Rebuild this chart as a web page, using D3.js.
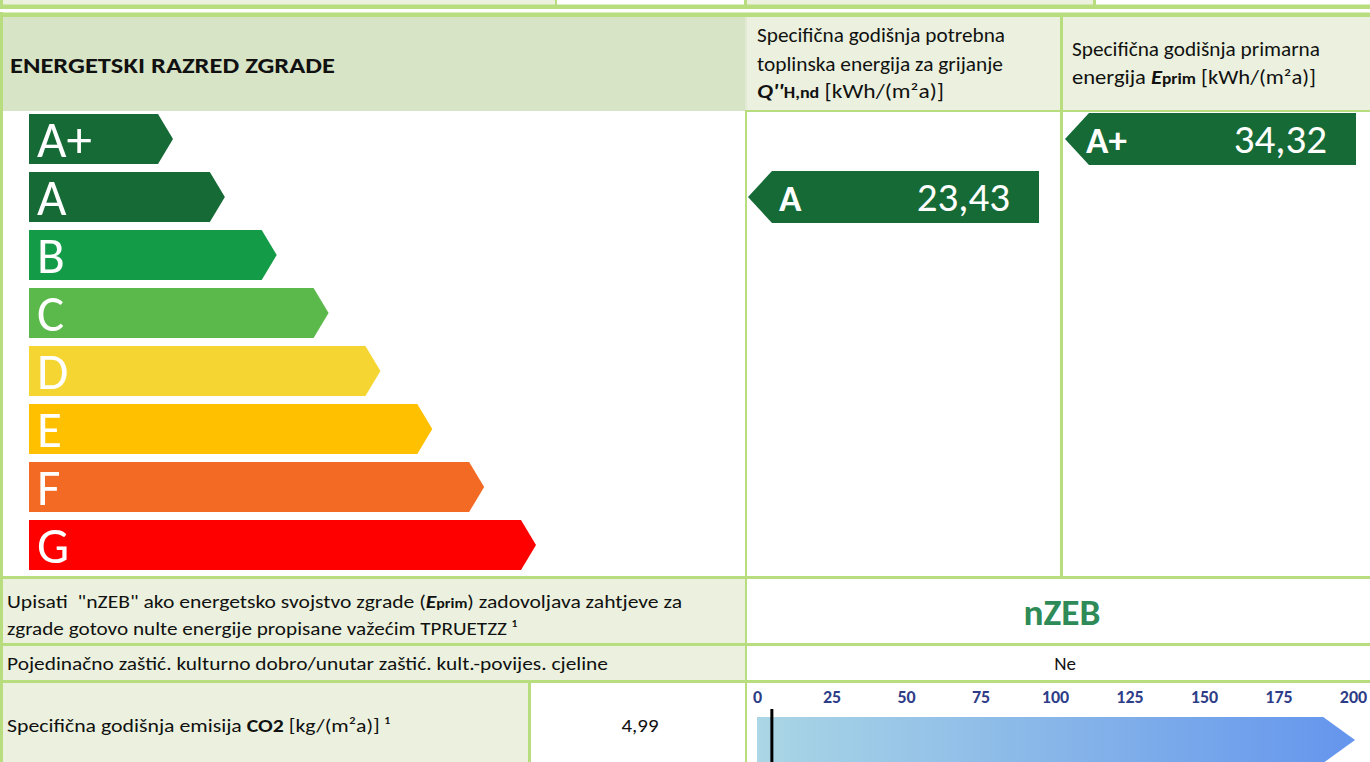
<!DOCTYPE html>
<html><head><meta charset="utf-8">
<script src="https://cdn.jsdelivr.net/npm/d3@7"></script>
<style>body{margin:0;background:#fff;overflow:hidden}svg{display:block}text{font-family:Carlito,Lato,"Open Sans",sans-serif}</style>
</head><body>
<script>
// ---- data ----
const classes = ["A+","A","B","C","D","E","F","G"];
const classColors = ["#156a36","#156a36","#149b48","#5bb84a","#f5d531","#ffc000","#f26a24","#ff0000"];
const qhndClass = "A";
const qhndValue = "23,43";
const eprimClass = "A+";
const eprimValue = "34,32";
const nzebValue = "nZEB";
const kulturnoValue = "Ne";
const co2Value = 4.99;
const co2Label = "4,99";
const co2Ticks = [0,25,50,75,100,125,150,175,200];

const W = 1370, H = 762;
const GREEN = "#b8dd7e", PALE = "#ebf1de", HEAD = "#d8e4c6";
const svg = d3.select("body").append("svg").attr("width", W).attr("height", H);
const defs = svg.append("defs");
const grad = defs.append("linearGradient").attr("id","co2grad").attr("x1","0").attr("x2","1").attr("y1","0").attr("y2","0");
grad.append("stop").attr("offset","0").attr("stop-color","#aad6e5");
grad.append("stop").attr("offset","1").attr("stop-color","#6495ed");

function rect(x,y,w,h,fill){ return svg.append("rect").attr("x",x).attr("y",y).attr("width",w).attr("height",h).attr("fill",fill); }

// ---- top strip (previous table) ----
rect(0,0,555,5,PALE); rect(555,0,2,5,GREEN); rect(557,0,188,5,"#fff");
rect(744,0,3,5,GREEN); rect(747,0,346,5,PALE); rect(1093,0,3,5,GREEN); rect(1096,0,274,5,"#fff");
rect(0,0,3,5,GREEN);
rect(0,4.5,W,4.5,GREEN);
rect(0,12.5,W,4.5,GREEN);

// ---- header ----
rect(3,17,742,94,HEAD);
rect(747,17,313,93,PALE);
rect(1063,17,307,93,PALE);
rect(745,17,2,94,"#e2ead6");
rect(1060,17,3,93,GREEN);
rect(745,110,W-745,2,GREEN);
rect(0,12,3,H-12,GREEN);

function txt(x,y,s,size,opts={}){
  const t = svg.append("text").attr("x",x).attr("y",y).attr("font-size",size).attr("fill",opts.fill||"#111")
    .attr("font-weight",opts.weight||400).attr("text-anchor",opts.anchor||"start").text(s);
  if(opts.len){ t.attr("textLength",opts.len).attr("lengthAdjust","spacingAndGlyphs"); }
  return t;
}
function mixed(x,y,parts,size,len){
  const t = svg.append("text").attr("x",x).attr("y",y).attr("font-size",size).attr("fill","#111");
  parts.forEach(p=>{
    const ts = t.append("tspan").text(p.t);
    if(p.b) ts.attr("font-weight",700);
    if(p.i) ts.attr("font-style","italic");
    if(p.s) ts.attr("font-size",p.s);
  });
  if(len) t.attr("textLength",len).attr("lengthAdjust","spacingAndGlyphs");
  return t;
}

txt(10,73,"ENERGETSKI RAZRED ZGRADE",23,{weight:700,len:325});
txt(757,42,"Specifična godišnja potrebna",19.5,{len:248});
txt(757,71,"toplinska energija za grijanje",19.5,{len:246});
mixed(757,98,[{t:"Q''",b:1,i:1},{t:"H,nd",b:1,s:15},{t:" [kWh/(m²a)]"}],19.5,187);
txt(1072,56,"Specifična godišnja primarna",19.5,{len:248});
mixed(1072,84,[{t:"energija "},{t:"E",b:1,i:1},{t:"prim",b:1,s:15},{t:" [kWh/(m²a)]"}],19.5,244);

// ---- body: class scale ----
const yBand = d3.scaleBand().domain(classes).range([114,570]).paddingInner(8/58).paddingOuter(0);
const xTip = d3.scaleLinear().domain([0,classes.length-1]).range([173,536]);
const bh = yBand.bandwidth();
const gCls = svg.append("g");
classes.forEach((c,i)=>{
  const y0 = yBand(c), tip = xTip(i), x0 = 29, depth = 15;
  gCls.append("path")
    .attr("d",`M${x0},${y0}H${tip-depth}L${tip},${y0+bh/2}L${tip-depth},${y0+bh}H${x0}Z`)
    .attr("fill",classColors[i]);
  gCls.append("text").attr("x",37).attr("y",y0+bh/2+18).attr("font-size",51).attr("font-weight",300)
    .attr("fill","#fff").text(c);
});

// column separators in body
rect(745,111,2,466,GREEN);
rect(1060,111,3,466,GREEN);

function indicator(cls,val,colLeft,right,labelX){
  const i = classes.indexOf(cls);
  const y0 = yBand(cls)-1, h = bh+2, tip = colLeft+3, x1 = tip+24;
  svg.append("path").attr("d",`M${tip},${y0+h/2}L${x1},${y0}H${right}V${y0+h}H${x1}Z`).attr("fill",classColors[i]);
  svg.append("text").attr("x",labelX).attr("y",y0+h/2+14).attr("font-size",37).attr("font-weight",700).attr("fill","#fff").text(cls);
  svg.append("text").attr("x",right-29).attr("y",y0+h/2+14).attr("font-size",41).attr("text-anchor","end").attr("fill","#fff").text(val);
}
indicator(qhndClass,qhndValue,745,1039,779);
indicator(eprimClass,eprimValue,1062,1356,1086);

// ---- lower rows ----
rect(0,576,W,3,GREEN);
rect(3,579,742,64,PALE);
rect(745,579,2,103,GREEN);
rect(0,643,W,3,GREEN);
rect(3,646,742,34,PALE);
rect(0,680,W,3,GREEN);
rect(3,683,525,79,PALE);
rect(528,683,3,79,GREEN);
rect(745,683,2,79,GREEN);

mixed(7,608,[{t:'Upisati \u00a0"nZEB" ako energetsko svojstvo zgrade ('},{t:"E",b:1,i:1},{t:"prim",b:1,s:14},{t:") zadovoljava zahtjeve za"}],19,675);
txt(7,635,"zgrade gotovo nulte energije propisane važećim TPRUETZZ ¹",19,{len:510});
txt(7,670,"Pojedinačno zaštić. kulturno dobro/unutar zaštić. kult.-povijes. cjeline",19,{len:601});
mixed(7,732,[{t:"Specifična godišnja emisija "},{t:"CO2",b:1},{t:" [kg/(m²a)] ¹"}],19,383);
txt(640,732,co2Label,19,{anchor:"middle",len:37});
txt(1062,625,nzebValue,37,{weight:700,anchor:"middle",fill:"#2e8b57",len:77});
txt(1065,670,kulturnoValue,19,{anchor:"middle"});

// ---- CO2 scale ----
const xc = d3.scaleLinear().domain([0,200]).range([757,1353]);
const gAx = svg.append("g").attr("transform","translate(0,703)");
const ax = d3.axisTop(xc).tickValues(co2Ticks).tickSize(0).tickPadding(0);
gAx.call(ax);
gAx.select(".domain").remove();
gAx.selectAll("text").attr("font-family","Liberation Sans, Arial, sans-serif").attr("font-size",18)
  .attr("font-weight",700).attr("fill","#2e3d87").attr("dy",0);
const barTop = 717, barBot = 763;
svg.append("path").attr("d",`M${xc(0)},${barTop}H${xc(190)}L${xc(200)+2},${(barTop+barBot)/2}L${xc(190)},${barBot}H${xc(0)}Z`)
  .attr("fill","url(#co2grad)");
svg.append("rect").attr("x",xc(co2Value)-1.5).attr("y",709).attr("width",3).attr("height",H-709).attr("fill","#000");
</script>
</body></html>
